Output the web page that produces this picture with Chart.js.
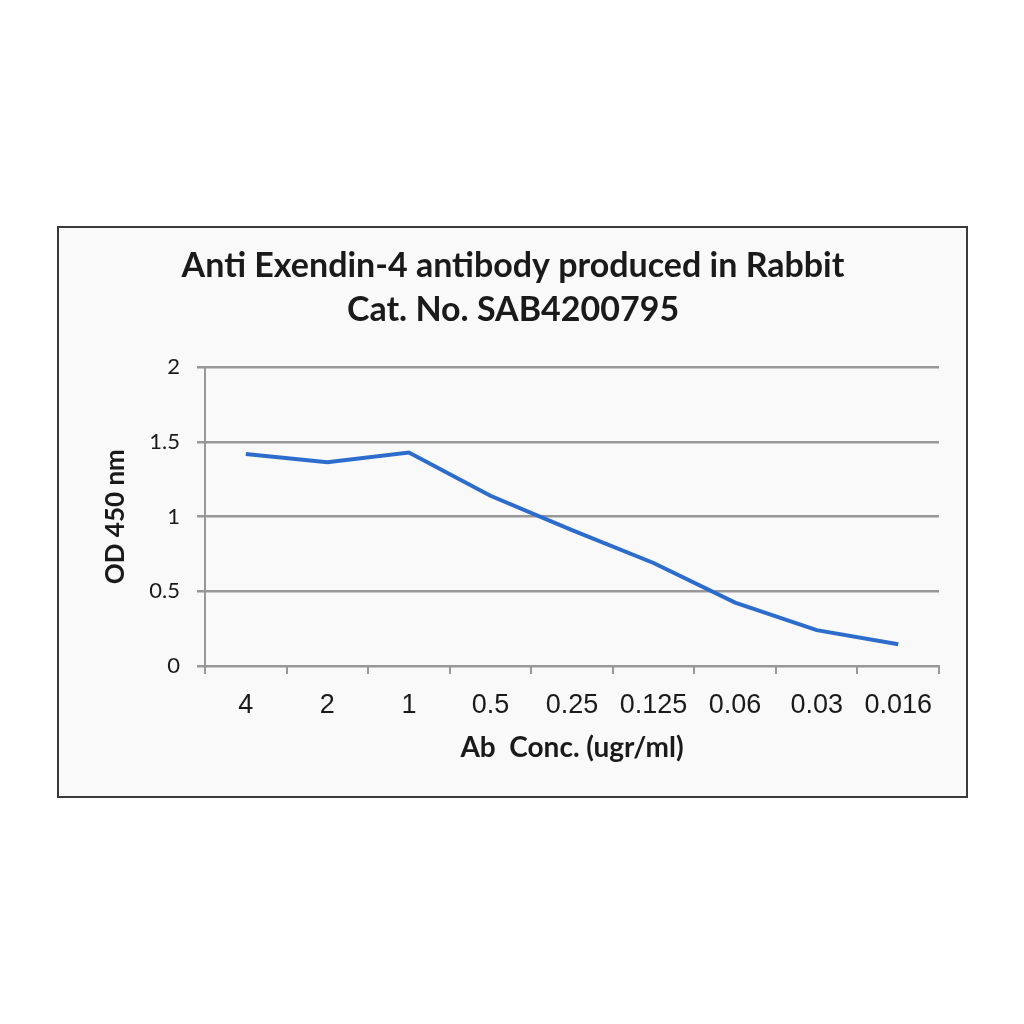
<!DOCTYPE html>
<html>
<head>
<meta charset="utf-8">
<script src="https://cdn.jsdelivr.net/npm/chart.js@4/dist/chart.umd.min.js"></script>
<style>
  html, body { margin: 0; padding: 0; background: #ffffff; }
  #box {
    position: absolute;
    left: 57px; top: 226px;
    width: 907px; height: 568px;
    border: 2px solid #3a3a3a;
    background: #f9f9f9;
  }
  canvas { display: block; }
</style>
</head>
<body>
<div id="box"><canvas id="myChart" width="907" height="568"></canvas></div>
<script>
const concentrations = ['4', '2', '1', '0.5', '0.25', '0.125', '0.06', '0.03', '0.016'];
const od450 = [1.42, 1.365, 1.43, 1.14, 0.91, 0.69, 0.425, 0.24, 0.146];

const gridGrey = '#979797';

const data = {
    labels: concentrations,
    datasets: [{
        label: 'OD 450 nm',
        borderColor: 'rgb(44, 108, 204)',
        backgroundColor: 'rgb(44, 108, 204)',
        data: od450,
        borderWidth: 4,
        pointRadius: 0,
        tension: 0,
    }]
};

const config = {
    type: 'line',
    data: data,
    options: {
        responsive: false,
        animation: false,
        layout: {
            padding: { left: 28, right: 27, top: 0, bottom: 0 }
        },
        plugins: {
            legend: { display: false },
            tooltip: { enabled: false },
            title: {
                display: true,
                text: ['Anti Exendin-4 antibody produced in Rabbit', 'Cat. No. SAB4200795'],
                color: '#1a1a1a',
                font: { family: 'Lato', size: 34, weight: 'bold', lineHeight: 1.3 },
                padding: { top: 16, bottom: 35 }
            }
        },
        scales: {
            x: {
                offset: true,
                grid: {
                    offset: true,
                    drawOnChartArea: false,
                    color: gridGrey,
                    lineWidth: 2,
                    tickLength: 8
                },
                border: { color: gridGrey, width: 2 },
                ticks: {
                    color: '#1a1a1a',
                    padding: 15,
                    maxRotation: 0,
                    autoSkip: false,
                    font: { family: 'Liberation Sans', size: 27 }
                },
                title: {
                    display: true,
                    text: 'Ab  Conc. (ugr/ml)',
                    color: '#1a1a1a',
                    font: { family: 'Lato', size: 28, weight: 'bold' },
                    padding: { top: 4, bottom: 31 }
                },
                afterFit: function (scale) { scale.height = 130; }
            },
            y: {
                min: 0,
                max: 2,
                grid: {
                    color: gridGrey,
                    lineWidth: 2.5,
                    tickLength: 8
                },
                border: { color: gridGrey, width: 2 },
                ticks: {
                    stepSize: 0.5,
                    color: '#1a1a1a',
                    padding: 17,
                    font: { family: 'Lato', size: 22 },
                    callback: function (value) { return String(value); }
                },
                title: {
                    display: true,
                    text: 'OD 450 nm',
                    color: '#1a1a1a',
                    font: { family: 'Lato', size: 26, weight: 'bold' },
                    padding: { top: 13, bottom: 4 }
                },
                afterFit: function (scale) { scale.width = 118; }
            }
        }
    }
};

var myChart = new Chart(
    document.getElementById('myChart'),
    config
);
</script>
</body>
</html>
